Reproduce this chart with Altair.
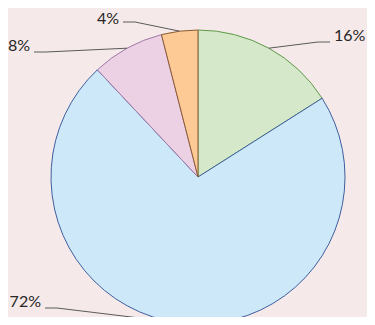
import altair as alt
import pandas as pd

# data
categories = ["A", "B", "C", "D"]
values = [16, 72, 8, 4]
labels = ["16%", "72%", "8%", "4%"]

# styling
fill_colors = ["#d5e8c9", "#cce8f9", "#ecd0e4", "#fdca95"]
stroke_colors = ["#5f9a48", "#3f5f9f", "#a07aa8", "#8a5a33"]

# layout (chart pixel coords): text anchor x (left edge if side<0, right edge if side>0) and centre y
label_x = [326, 33, 22, 111]
label_y = [28, 294, 38, 11]
line_dy = [6, 6, 6, 3]
line_side = [-1, 1, 1, 1]

CX, CY, R = 190, 169, 147
W, H = 359, 309

df = pd.DataFrame({
    "cat": categories,
    "value": values,
    "label": labels,
    "idx": list(range(len(values))),
    "lx": label_x,
    "ly": label_y,
    "ldy": line_dy,
    "side": line_side,
})

base = alt.Chart(df)

color_scale = alt.Scale(domain=categories, range=fill_colors)
stroke_scale = alt.Scale(domain=categories, range=stroke_colors)

pie = base.mark_arc(outerRadius=R, strokeWidth=1).encode(
    theta=alt.Theta("value:Q", stack=True),
    order=alt.Order("idx:Q"),
    color=alt.Color("cat:N", scale=color_scale, legend=None),
    stroke=alt.Stroke("cat:N", scale=stroke_scale, legend=None),
    x=alt.value(CX),
    y=alt.value(CY),
)

geo = base.transform_window(
    cum="sum(value)", sort=[alt.SortField("idx")], frame=[None, 0]
).transform_joinaggregate(
    total="sum(value)"
).transform_calculate(
    mid="(datum.cum - datum.value/2) / datum.total * 2 * PI",
).transform_calculate(
    ax=f"{CX} + {R} * sin(datum.mid)",
    ay=f"{CY} - {R} * cos(datum.mid)",
    ex="datum.side < 0 ? datum.lx - 4 : datum.lx + 4",
    ey="datum.ly + datum.ldy",
).transform_calculate(
    kx="datum.side < 0 ? datum.ex - 12 : datum.ex + 12",
)

seg1 = geo.mark_rule(color="#5a5a5a", strokeWidth=1).encode(
    x=alt.X("ax:Q", scale=None),
    y=alt.Y("ay:Q", scale=None),
    x2="kx:Q",
    y2="ey:Q",
)
seg2 = geo.mark_rule(color="#5a5a5a", strokeWidth=1).encode(
    x=alt.X("kx:Q", scale=None),
    y=alt.Y("ey:Q", scale=None),
    x2="ex:Q",
    y2="ey:Q",
)

text_style = dict(baseline="middle", font="Lato", fontSize=16, color="#262626")
text_left = base.transform_filter("datum.side < 0").mark_text(align="left", **text_style).encode(
    x=alt.X("lx:Q", scale=None),
    y=alt.Y("ly:Q", scale=None),
    text="label:N",
)
text_right = base.transform_filter("datum.side > 0").mark_text(align="right", **text_style).encode(
    x=alt.X("lx:Q", scale=None),
    y=alt.Y("ly:Q", scale=None),
    text="label:N",
)

chart = alt.layer(pie, seg1, seg2, text_left, text_right).properties(
    width=W,
    height=H,
    autosize=alt.AutoSizeParams(type="none"),
    padding=0,
    background="#f6e9e9",
).configure_view(stroke=None)

chart.save("out.html", embed_options={"renderer": "svg", "actions": False})
